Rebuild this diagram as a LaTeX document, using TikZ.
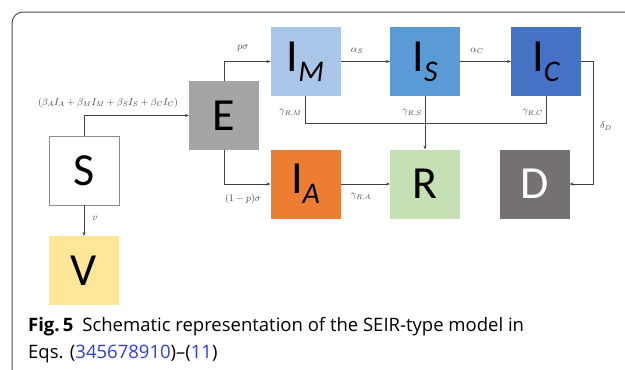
\documentclass[tikz,border=0pt]{standalone}
\usepackage{fontspec}
\setmainfont{Open Sans}
\newfontfamily\boxfont{Carlito}
\usetikzlibrary{arrows.meta}
\definecolor{cIM}{HTML}{A9C6E8}
\definecolor{cIS}{HTML}{5B9BD5}
\definecolor{cIC}{HTML}{4472C4}
\definecolor{cE}{HTML}{A5A5A5}
\definecolor{cV}{HTML}{FFE699}
\definecolor{cIA}{HTML}{ED7D31}
\definecolor{cR}{HTML}{C5E0B4}
\definecolor{cD}{HTML}{767171}
\definecolor{cline}{HTML}{404040}
\definecolor{linkblue}{HTML}{2F3FD8}
\newcommand{\bigL}[1]{{\boxfont\fontsize{46bp}{46bp}\selectfont #1}}
\newcommand{\bigLsub}[2]{{\boxfont\fontsize{46bp}{46bp}\selectfont #1\raisebox{-10bp}{\fontsize{30bp}{30bp}\selectfont\itshape #2}}}
\tikzset{
  comp/.style={minimum width=70bp, minimum height=69bp, inner sep=0pt, outer sep=0pt, text=black},
  arr/.style={draw=cline, line width=0.8bp, -{Stealth[length=4bp,width=3bp]}},
  ln/.style={draw=cline, line width=0.8bp},
  lab/.style={font=\fontsize{9.5bp}{10bp}\selectfont, text=black!75, inner sep=0pt}
}
\begin{document}
\begin{tikzpicture}[x=1bp,y=-1bp]
\useasboundingbox (0,0) rectangle (625,369);
\draw[line width=1bp, black!70, rounded corners=11bp] (12,375) -- (12,12) -- (630,12);

\node[comp, fill=cIM] (IM) at (305.5,61.5) {\bigLsub{I}{M}};
\node[comp, fill=cIS] (IS) at (425,61.5) {\bigLsub{I}{S}};
\node[comp, fill=cIC] (IC) at (546,61.5) {\bigLsub{I}{C}};
\node[comp, fill=cE] (E) at (224,115.5) {\bigL{E}};
\node[comp, fill=white, draw=black!45, line width=0.8bp] (S) at (84,170.5) {\bigL{S}};
\node[comp, fill=cV] (V) at (84,270.5) {\bigL{V}};
\node[comp, fill=cIA] (IA) at (305.5,184) {\bigLsub{I}{A}};
\node[comp, fill=cR] (R) at (425,184) {\bigL{R}};
\node[comp, fill=cD, text=white] (D) at (534.5,184) {\bigL{D}};

\draw[arr] (S.north) |- (E.west);
\draw[arr] (E.north) |- (IM.west);
\draw[arr] (E.south) |- (IA.west);
\draw[arr] (IM.east) -- (IS.west);
\draw[arr] (IS.east) -- (IC.west);
\draw[arr] (IC.east) -- ++(12,0) |- (D.east);
\draw[ln] (IM.south) -- (IM.south |- 0,123) -- (IC.south |- 0,123) -- (IC.south);
\draw[arr] (IS.south) -- (R.north);
\draw[arr] (IA.east) -- (R.west);
\draw[arr] (S.south) -- (V.north);

\node[lab] (lbeta) at (108,103) {$(\beta_A I_A+\beta_M I_M+\beta_S I_S+\beta_C I_C)$};
\node[lab] (lps) at (243,48) {$p\sigma$};
\node[lab] (lqs) at (243,199) {$(1-p)\sigma$};
\node[lab] (las) at (357,51) {$\alpha_S$};
\node[lab] (lac) at (477,51) {$\alpha_C$};
\node[lab, anchor=east] (lgm) at (302,113) {$\gamma_{R,M}$};
\node[lab, anchor=east] (lgs) at (422,113) {$\gamma_{R,S}$};
\node[lab, anchor=east] (lgc) at (543,113) {$\gamma_{R,C}$};
\node[lab] (lga) at (361,197) {$\gamma_{R,A}$};
\node[lab] (lv) at (95,218) {$v$};
\node[lab] (ld) at (606,126) {$\delta_D$};

\node[anchor=base west, inner sep=0pt, font=\fontsize{18.5bp}{20bp}\selectfont] (cap1) at (28,331) {\textbf{Fig.\,5}\hspace{9bp}Schematic representation of the SEIR-type model in};
\node[anchor=base west, inner sep=0pt, font=\fontsize{18.5bp}{20bp}\selectfont] (cap2) at (28,358) {Eqs. (\textcolor{linkblue}{345678910})–(\textcolor{linkblue}{11})};
\end{tikzpicture}
\end{document}
